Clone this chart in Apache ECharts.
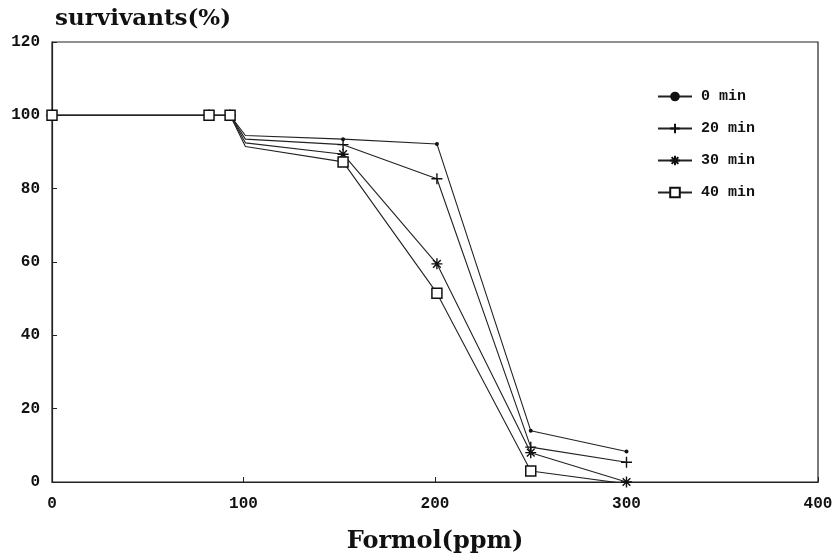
<!DOCTYPE html>
<html>
<head>
<meta charset="utf-8">
<script src="https://cdn.jsdelivr.net/npm/echarts@6/dist/echarts.min.js"></script>
<style>html,body{margin:0;padding:0;background:#fff}#c{width:833px;height:558px}</style>
</head>
<body>
<div id="c"></div>
<script>
var doses = [0, 82, 93, 101, 152, 201, 250, 300];
var min0  = [100, 100, 100, 94.5, 93.5, 92.2, 14, 8.3];
var min20 = [100, 100, 100, 93.5, 92, 82.7, 9.5, 5.4];
var min30 = [100, 100, 100, 92.5, 89.4, 59.5, 8, 0];
var min40 = [100, 100, 100, 91.5, 87.3, 51.5, 3, -0.5];
var seriesNames = ['0 min', '20 min', '30 min', '40 min'];
var yTicks = [0, 20, 40, 60, 80, 100, 120];
var xTicks = [0, 100, 200, 300, 400];
var unmarkedDoses = [101];

var plusPath = 'path://M0,5L10,5M5,0L5,10';
var starPath = 'path://M0,5L10,5M5,0L5,10M1.5,1.5L8.5,8.5M8.5,1.5L1.5,8.5';
var squarePath = 'path://M0,0L10,0L10,10L0,10Z';

function pairs(ys){
  return doses.map(function(x,i){
    var item = {value: [x, ys[i]]};
    if (unmarkedDoses.indexOf(x) >= 0) item.symbol = 'none';
    return item;
  });
}

var markerDefs = [
  {symbol:'circle', size:4, itemStyle:{color:'#111', borderColor:'#111', borderWidth:0}},
  {symbol:plusPath, size:11, itemStyle:{color:'none', borderColor:'#111', borderWidth:1.4}},
  {symbol:starPath, size:11, itemStyle:{color:'none', borderColor:'#111', borderWidth:1.4}},
  {symbol:squarePath, size:10, itemStyle:{color:'#fff', borderColor:'#111', borderWidth:1.5}}
];
var allData = [min0, min20, min30, min40];

var series = allData.map(function(d, i){
  var m = markerDefs[i];
  return {
    name: seriesNames[i],
    type: 'line',
    data: pairs(d),
    symbol: m.symbol,
    symbolSize: m.size,
    showAllSymbol: true,
    itemStyle: m.itemStyle,
    lineStyle: {color:'#222', width:1.1},
    z: 3 + i,
    animation: false
  };
});

var chart = echarts.init(document.getElementById('c'));
chart.setOption({
  animation: false,
  backgroundColor: '#fff',
  grid: {left: 52, right: 15, top: 42, bottom: 76, containLabel: false, outerBoundsMode: 'none',
         show: true, borderColor: '#222', borderWidth: 1.2},
  title: {
    text: 'survivants(%)', left: 50, top: 3,
    textStyle: {fontFamily: 'DejaVu Serif', fontSize: 23, fontWeight: 'bold', color: '#111'}
  },
  legend: {
    orient: 'vertical', left: 652, top: 84, itemGap: 17,
    itemWidth: 34, itemHeight: 12,
    data: seriesNames,
    textStyle: {fontFamily: 'Liberation Mono', fontWeight: 'bold', fontSize: 15, color: '#111', padding: [0,0,0,4]}
  },
  xAxis: {
    type: 'value', min: 0, max: 400, interval: 100,
    name: 'Formol(ppm)', nameLocation: 'middle', nameGap: 48,
    nameTextStyle: {fontFamily: 'DejaVu Serif', fontSize: 24, fontWeight: 'bold', color: '#111'},
    axisLine: {show: true, lineStyle: {color: '#222', width: 1.2}},
    axisTick: {show: true, inside: true, length: 5, lineStyle: {color: '#222'}},
    splitLine: {show: false},
    axisLabel: {
      margin: 14, fontFamily: 'Liberation Mono', fontWeight: 'bold', fontSize: 16, color: '#111',
      formatter: function(v){ return xTicks.indexOf(v) >= 0 ? String(v) : ''; }
    }
  },
  yAxis: {
    type: 'value', min: 0, max: 120, interval: 20,
    axisLine: {show: true, lineStyle: {color: '#222', width: 1.2}},
    axisTick: {show: true, inside: true, length: 5, lineStyle: {color: '#222'}},
    splitLine: {show: false},
    axisLabel: {
      margin: 12, fontFamily: 'Liberation Mono', fontWeight: 'bold', fontSize: 16, color: '#111',
      formatter: function(v){ return yTicks.indexOf(v) >= 0 ? String(v) : ''; }
    }
  },
  series: series
});
</script>
</body>
</html>
